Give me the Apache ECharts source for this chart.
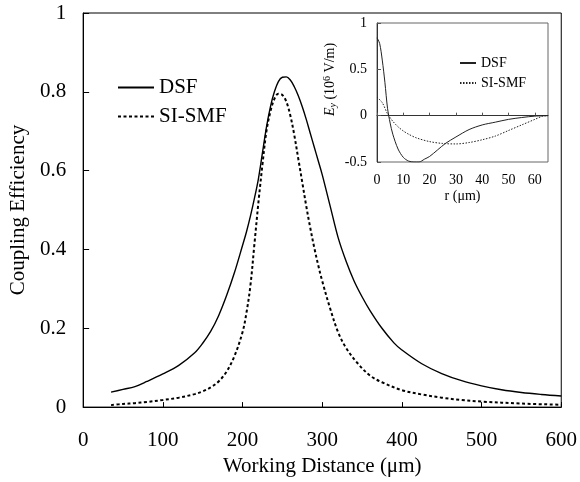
<!DOCTYPE html>
<html><head><meta charset="utf-8">
<script src="https://cdn.jsdelivr.net/npm/echarts@6/dist/echarts.min.js"></script>
<style>html,body{margin:0;padding:0;background:#fff}#c{width:580px;height:482px}</style>
</head><body><div id="c"></div>
<script>
// Main chart: coupling efficiency vs working distance (um)
const dsfX = [35,50,65,80,100,120,140,150,160,170,180,190,200,205,210,215,220,225,230,235,240,245,250,255,260,265,270,275,280,285,290,295,300,310,320,330,340,350,360,375,390,400,425,450,475,500,525,550,575,600];
const dsfY = [0.038,0.045,0.052,0.065,0.084,0.106,0.138,0.162,0.192,0.232,0.283,0.342,0.41,0.445,0.485,0.53,0.58,0.645,0.71,0.762,0.80,0.826,0.837,0.838,0.83,0.813,0.79,0.762,0.73,0.695,0.66,0.625,0.59,0.51,0.43,0.37,0.32,0.28,0.245,0.2,0.163,0.145,0.11,0.085,0.067,0.054,0.044,0.037,0.032,0.028];
const smfX = [35,50,65,80,100,120,140,150,160,170,180,190,200,205,210,215,220,225,230,235,240,245,250,255,260,265,270,275,280,285,290,295,300,310,320,330,345,360,375,400,425,450,475,500,550,600];
const smfY = [0.005,0.008,0.01,0.013,0.018,0.024,0.033,0.04,0.05,0.065,0.09,0.13,0.19,0.24,0.31,0.415,0.52,0.615,0.70,0.75,0.782,0.795,0.792,0.775,0.74,0.69,0.63,0.57,0.51,0.455,0.405,0.36,0.32,0.25,0.19,0.15,0.11,0.08,0.063,0.043,0.032,0.024,0.018,0.014,0.009,0.006];
// Inset: field Ey (1e6 V/m) vs r (um)
const inDsfR = [0,1,2,3,4,5,6,8,10,12,14,16,18,20,23,26,30,35,40,45,50,55,60,65];
const inDsfE = [0.84,0.78,0.6,0.36,0.08,-0.08,-0.2,-0.36,-0.45,-0.49,-0.5,-0.5,-0.47,-0.44,-0.37,-0.3,-0.23,-0.15,-0.1,-0.07,-0.04,-0.02,-0.005,0];
const inSmfR = [0,2,4,6,8,10,12,15,20,25,30,35,40,45,50,55,60,63,65];
const inSmfE = [0.2,0.14,0.02,-0.06,-0.12,-0.165,-0.2,-0.24,-0.28,-0.3,-0.305,-0.29,-0.26,-0.22,-0.16,-0.1,-0.04,-0.005,0];
const mainXTicks = [0,100,200,300,400,500,600];
const mainYTicks = [0,0.2,0.4,0.6,0.8,1];
const insetXTicks = [0,10,20,30,40,50,60];
const insetYTicks = [-0.5,0,0.5,1];
const seriesNames = ['DSF','SI-SMF'];

const zip = (a,b)=>a.map((v,i)=>[v,b[i]]);
const F = 'Liberation Serif, Times New Roman, serif';
const chart = echarts.init(document.getElementById('c'));
chart.setOption({
  animation:false,
  backgroundColor:'#fff',
  textStyle:{fontFamily:F,color:'#000'},
  grid:[
    {left:81,top:13,right:18,bottom:74,show:true,borderColor:'#000',borderWidth:1},
    {left:377,top:23,right:32,bottom:320,show:true,borderColor:'#666',borderWidth:1}
  ],
  legend:[
    {orient:'vertical',left:112,top:72,itemWidth:36,itemHeight:14,itemGap:8,
     itemStyle:{opacity:0},
     data:seriesNames,textStyle:{fontFamily:F,fontSize:21,color:'#000'}},
    {orient:'vertical',left:454,top:51,itemWidth:16,itemHeight:10,itemGap:6,
     itemStyle:{opacity:0},
     data:seriesNames.map(n=>n+' (inset)'),formatter:n=>n.replace(' (inset)',''),
     textStyle:{fontFamily:F,fontSize:14,color:'#000'}}
  ],
  xAxis:[
    {gridIndex:0,type:'value',min:0,max:600,interval:100,
     name:'Working Distance (\u03bcm)',nameLocation:'middle',nameGap:40,
     nameTextStyle:{fontFamily:F,fontSize:21,color:'#000'},
     axisLine:{lineStyle:{color:'#000',width:1}},
     axisTick:{inside:true,length:5,lineStyle:{color:'#000'}},
     axisLabel:{fontFamily:F,fontSize:21,color:'#000',margin:23,
       formatter:v=>mainXTicks.includes(v)?String(v):''},
     splitLine:{show:false}},
    {gridIndex:1,type:'value',min:0,max:65,interval:10,
     name:'r (\u03bcm)',nameLocation:'middle',nameGap:27,
     nameTextStyle:{fontFamily:F,fontSize:14,color:'#000'},
     axisLine:{lineStyle:{color:'#333',width:1}},
     axisTick:{inside:true,length:3,lineStyle:{color:'#555'}},
     axisLabel:{fontFamily:F,fontSize:14,color:'#000',margin:11,showMaxLabel:false,
       formatter:v=>insetXTicks.includes(v)?String(v):''},
     splitLine:{show:false}}
  ],
  yAxis:[
    {gridIndex:0,type:'value',min:0,max:1,interval:0.2,
     name:'Coupling Efficiency',nameLocation:'middle',nameGap:50,
     nameTextStyle:{fontFamily:F,fontSize:21,color:'#000'},
     axisLine:{lineStyle:{color:'#000',width:1}},
     axisTick:{inside:true,length:6,lineStyle:{color:'#000'}},
     axisLabel:{fontFamily:F,fontSize:21,color:'#000',margin:17,
       formatter:v=>{const t=mainYTicks.find(x=>Math.abs(x-v)<1e-9);return t===undefined?'':String(t);}},
     splitLine:{show:false}},
    {gridIndex:1,type:'value',min:-0.5,max:1,interval:0.5,
     name:'{e|E}{s|y} (10{p|6} V/m)',nameLocation:'middle',nameGap:39,
     nameTextStyle:{fontFamily:F,fontSize:14,color:'#000',padding:[0,0,0,26],
       rich:{e:{fontFamily:F,fontSize:14,fontStyle:'italic',color:'#000'},
             s:{fontFamily:F,fontSize:10,fontStyle:'italic',color:'#000',verticalAlign:'bottom',padding:[6,0,0,0]},
             p:{fontFamily:F,fontSize:10,color:'#000',verticalAlign:'top',padding:[0,0,6,0]}}},
     axisLine:{lineStyle:{color:'#333',width:1}},
     axisTick:{inside:true,length:4,lineStyle:{color:'#555'}},
     axisLabel:{fontFamily:F,fontSize:14,color:'#000',margin:10,
       formatter:v=>{const t=insetYTicks.find(x=>Math.abs(x-v)<1e-9);return t===undefined?'':String(t);}},
     splitLine:{show:false}}
  ],
  series:[
    {name:'DSF',type:'line',xAxisIndex:0,yAxisIndex:0,data:zip(dsfX,dsfY),smooth:0.35,
     showSymbol:false,symbol:'none',lineStyle:{color:'#000',width:1.4,type:'solid'},itemStyle:{color:'#000'}},
    {name:'SI-SMF',type:'line',xAxisIndex:0,yAxisIndex:0,data:zip(smfX,smfY),smooth:0.35,
     showSymbol:false,symbol:'none',lineStyle:{color:'#000',width:2,type:[3,2.5]},itemStyle:{color:'#000'}},
    {name:'DSF (inset)',type:'line',xAxisIndex:1,yAxisIndex:1,data:zip(inDsfR,inDsfE),smooth:0.3,
     showSymbol:false,symbol:'none',lineStyle:{color:'#222',width:1,type:'solid'},itemStyle:{color:'#222'}},
    {name:'SI-SMF (inset)',type:'line',xAxisIndex:1,yAxisIndex:1,data:zip(inSmfR,inSmfE),smooth:0.3,
     showSymbol:false,symbol:'none',lineStyle:{color:'#222',width:1,type:[1.5,1.5]},itemStyle:{color:'#222'}}
  ]
});
</script></body></html>
